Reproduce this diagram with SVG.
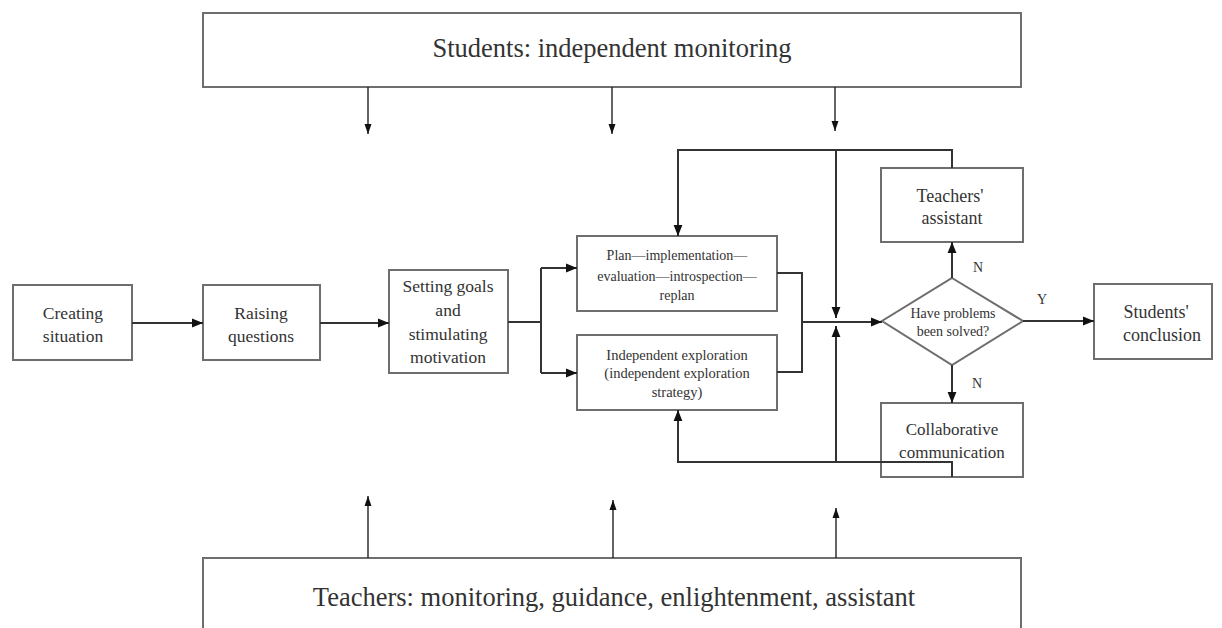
<svg xmlns="http://www.w3.org/2000/svg" width="1222" height="628" viewBox="0 0 1222 628">
<style>
.box{fill:#fff;stroke:#6e6e6e;stroke-width:2}
.t{font-family:'Liberation Serif','DejaVu Serif',serif;fill:#333;text-anchor:middle}
.ln{fill:none;stroke:#333;stroke-width:2}
.thin{fill:none;stroke:#222;stroke-width:1.4}
</style>
<defs>
<marker id="ah" viewBox="0 0 10 10" refX="10" refY="5" markerWidth="10" markerHeight="10" orient="auto" markerUnits="userSpaceOnUse"><path d="M0,1.5 L10,5 L0,8.5 z" fill="#111"/></marker>
<marker id="ah2" viewBox="0 0 10 10" refX="10" refY="5" markerWidth="11" markerHeight="11" orient="auto" markerUnits="userSpaceOnUse"><path d="M0,1 L10,5 L0,9 z" fill="#111"/></marker>
</defs>
<g id="students-monitor"><rect class="box" x="203" y="13" width="818" height="74"/><text class="t" x="612" y="57" font-size="26.5">Students: independent monitoring</text></g>
<g id="teachers-monitor"><rect class="box" x="203" y="558" width="818" height="80"/><text class="t" x="614" y="606" font-size="26.5">Teachers: monitoring, guidance, enlightenment, assistant</text></g>
<g id="creating"><rect class="box" x="13" y="285" width="119" height="75"/><text class="t" x="73" y="319" font-size="17.5">Creating</text><text class="t" x="73" y="342" font-size="17.5">situation</text></g>
<g id="raising"><rect class="box" x="203" y="285" width="117" height="75"/><text class="t" x="261" y="319" font-size="17.5">Raising</text><text class="t" x="261" y="342" font-size="17.5">questions</text></g>
<g id="setting"><rect class="box" x="389" y="270" width="119" height="103"/><text class="t" x="448" y="292" font-size="17.5">Setting goals</text><text class="t" x="448" y="316" font-size="17.5">and</text><text class="t" x="448" y="340" font-size="17.5">stimulating</text><text class="t" x="448" y="363" font-size="17.5">motivation</text></g>
<g id="plan"><rect class="box" x="577" y="236" width="200" height="75"/><text class="t" x="677" y="260" font-size="14">Plan—implementation—</text><text class="t" x="677" y="281" font-size="14">evaluation—introspection—</text><text class="t" x="677" y="300" font-size="14">replan</text></g>
<g id="explore"><rect class="box" x="577" y="335" width="200" height="75"/><text class="t" x="677" y="360" font-size="14.5">Independent exploration</text><text class="t" x="677" y="378" font-size="14.5">(independent exploration</text><text class="t" x="677" y="397" font-size="14.5">strategy)</text></g>
<g id="decision"><polygon class="box" points="952,278 1023,321 952,365 882,321"/><text class="t" x="953" y="318" font-size="14">Have problems</text><text class="t" x="953" y="336" font-size="14">been solved?</text></g>
<g id="assistant"><rect class="box" x="881" y="168" width="142" height="74"/><text class="t" x="950" y="202" font-size="18">Teachers'</text><text class="t" x="952" y="224" font-size="18">assistant</text></g>
<g id="collab"><rect class="box" x="881" y="403" width="142" height="74"/><text class="t" x="952" y="435" font-size="17">Collaborative</text><text class="t" x="952" y="458" font-size="17">communication</text></g>
<g id="conclusion"><rect class="box" x="1094" y="284" width="118" height="75"/><text class="t" x="1156" y="318" font-size="18">Students'</text><text class="t" x="1162" y="341" font-size="18">conclusion</text></g>
<g id="labels"><text class="t" x="978" y="272" font-size="14">N</text><text class="t" x="977" y="388" font-size="14">N</text><text class="t" x="1042" y="304" font-size="14">Y</text></g>
<g id="connectors">
<path class="ln" d="M132,323 H203" marker-end="url(#ah2)"/>
<path class="ln" d="M320,323 H389" marker-end="url(#ah2)"/>
<path class="ln" d="M508,322 H541"/>
<path class="ln" d="M541,268 V373"/>
<path class="ln" d="M541,268 H577" marker-end="url(#ah2)"/>
<path class="ln" d="M541,373 H577" marker-end="url(#ah2)"/>
<path class="ln" d="M777,273 H802 V372 H777"/>
<path class="ln" d="M802,322 H882" marker-end="url(#ah2)"/>
<path class="ln" d="M836,150 V318" marker-end="url(#ah2)"/>
<path class="ln" d="M836,462 V326" marker-end="url(#ah2)"/>
<path class="ln" d="M952,168 V150 H678 V236" marker-end="url(#ah2)"/>
<path class="ln" d="M952,477 V462 H678 V410" marker-end="url(#ah2)"/>
<path class="ln" d="M952,278 V242" marker-end="url(#ah2)"/>
<path class="ln" d="M952,365 V403" marker-end="url(#ah2)"/>
<path class="ln" d="M1023,321 H1094" marker-end="url(#ah2)"/>
<path class="thin" d="M368,87 V134" marker-end="url(#ah)"/>
<path class="thin" d="M612,87 V134" marker-end="url(#ah)"/>
<path class="thin" d="M835,87 V131" marker-end="url(#ah)"/>
<path class="thin" d="M368,558 V496" marker-end="url(#ah)"/>
<path class="thin" d="M613,558 V500" marker-end="url(#ah)"/>
<path class="thin" d="M836,558 V508" marker-end="url(#ah)"/>
</g>
</svg>
